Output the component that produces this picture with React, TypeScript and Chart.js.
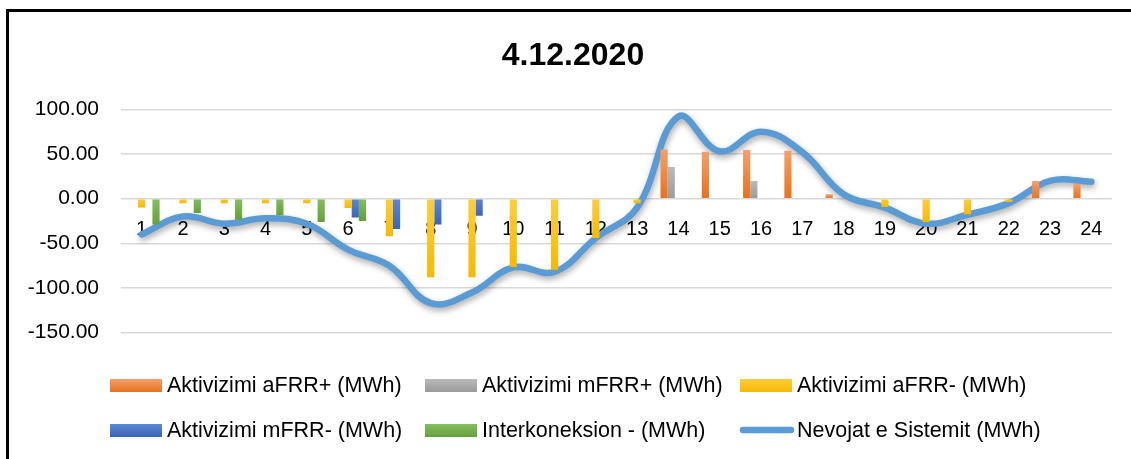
import React, { useEffect, useRef } from 'react';
import { Chart, registerables } from 'chart.js';

Chart.register(...registerables);

const categories = ['1', '2', '3', '4', '5', '6', '7', '8', '9', '10', '11', '12', '13', '14', '15', '16', '17', '18', '19', '20', '21', '22', '23', '24'];
const aFRRplus = [0, 0, 0, 0, 0, 0, 0, 0, 0, 0, 0, 0, 0, 55, 52.6, 54.5, 53.5, 4.9, 0, 0, 0, 0, 19.8, 16.5];
const mFRRplus = [0, 0, 0, 0, 0, 0, 0, 0, 0, 0, 0, 0, 0, 35.4, 0, 19.8, 0, 0, 0, 0, 0, 0, 0, 0];
const aFRRminus = [-10, -5, -5, -5, -5, -10.5, -42, -88, -88, -76.5, -79.5, -44, -5, 0, 0, 0, 0, 0, -9.3, -26, -17.5, -3.7, 0, 0];
const mFRRminus = [0, 0, 0, 0, 0, -21, -34, -29, -19, 0, 0, 0, 0, 0, 0, 0, 0, 0, 0, 0, 0, 0, 0, 0];
const interkoneksion = [-29, -16, -23.5, -18.7, -26, -25, 0, 0, 0, 0, 0, 0, 0, 0, 0, 0, 0, 0, 0, 0, 0, 0, 0, 0];
const nevojat = [-40, -20, -28, -22, -28, -57, -75, -117, -105, -77, -82, -44, -10, 92, 53, 75, 52, 5, -10, -28, -18, -5, 20, 19];

const seriesNames = [
  'Aktivizimi aFRR+ (MWh)',
  'Aktivizimi mFRR+ (MWh)',
  'Aktivizimi aFRR- (MWh)',
  'Aktivizimi mFRR- (MWh)',
  'Interkoneksion - (MWh)',
  'Nevojat e Sistemit (MWh)',
];
const titleText = '4.12.2020';

// [light (top), dark (bottom)]
const ORANGE = ['#F4A06A', '#E8711F'];
const GRAY = ['#BABABA', '#9A9A9A'];
const YELLOW = ['#FFCD3C', '#F7B900'];
const BLUE = ['#5D88D6', '#3A64B6'];
const GREEN = ['#86BE60', '#63A03A'];
const LINE = '#5B9BD5';

const FONT = "'Liberation Sans', Arial, sans-serif";

// legend grid layout
const LEG_X0 = 110;
const LEG_COL = 315;
const LEG_Y0 = 385;
const LEG_ROW = 45;
const LEG_TEXT_GAP = 57;

function rectImage(colors: string[]) {
  const c = document.createElement('canvas');
  c.width = 52;
  c.height = 13;
  const x = c.getContext('2d')!;
  const g = x.createLinearGradient(0, 0, 0, 13);
  g.addColorStop(0, colors[0]);
  g.addColorStop(1, colors[1]);
  x.fillStyle = g;
  x.fillRect(0, 0, 52, 13);
  return c;
}

function lineImage() {
  const c = document.createElement('canvas');
  c.width = 56;
  c.height = 10;
  const x = c.getContext('2d')!;
  x.strokeStyle = LINE;
  x.lineWidth = 6.5;
  x.lineCap = 'round';
  x.beginPath();
  x.moveTo(4, 5);
  x.lineTo(52, 5);
  x.stroke();
  return c;
}

export default function App() {
  const ref = useRef<HTMLCanvasElement>(null);

  useEffect(() => {
    if (!ref.current) return;

    const images = [rectImage(ORANGE), rectImage(GRAY), rectImage(YELLOW), rectImage(BLUE), rectImage(GREEN), lineImage()];

    const shadowPlugin = {
      id: 'lineShadow',
      beforeDatasetDraw(chart: any, args: any) {
        if (args.meta.type !== 'line') return;
        const c = chart.ctx;
        c.save();
        c.shadowColor = 'rgba(0,0,0,0.35)';
        c.shadowBlur = 6;
        c.shadowOffsetX = 1;
        c.shadowOffsetY = 3;
      },
      afterDatasetDraw(chart: any, args: any) {
        if (args.meta.type !== 'line') return;
        chart.ctx.restore();
      },
    };

    const shiftPlugin = {
      id: 'shiftTitle',
      afterLayout(chart: any) {
        if (chart.titleBlock) chart.titleBlock.left = 34;
      },
    };

    const legendPlugin = {
      id: 'gridLegend',
      afterDraw(chart: any) {
        const c = chart.ctx;
        c.save();
        c.font = `21.5px ${FONT}`;
        c.fillStyle = '#000';
        c.textBaseline = 'middle';
        c.textAlign = 'left';
        chart.data.datasets.forEach((ds: any, i: number) => {
          const col = i % 3;
          const row = Math.floor(i / 3);
          const bx = LEG_X0 + col * LEG_COL;
          const cy = LEG_Y0 + row * LEG_ROW;
          const img = images[i];
          const ox = ds.type === 'line' ? -1 : 0;
          c.drawImage(img, bx + ox, Math.round(cy - img.height / 2));
          c.fillText(ds.label, bx + LEG_TEXT_GAP, cy + 1);
        });
        c.restore();
      },
    };

    const barDs = (label: string, data: number[], colors: string[]) => ({
      type: 'bar' as const,
      label,
      data,
      backgroundColor: (ctx: any) => {
        const chart = ctx.chart;
        const ys = chart.scales && chart.scales.y;
        if (ctx.type !== 'data' || !ys || typeof ctx.raw !== 'number' || ctx.raw === 0) return colors[1];
        const p0 = ys.getPixelForValue(0);
        const p1 = ys.getPixelForValue(ctx.raw);
        const top = Math.min(p0, p1);
        const bot = Math.max(p0, p1);
        if (!isFinite(top) || !isFinite(bot) || bot - top < 0.5) return colors[1];
        const g = chart.ctx.createLinearGradient(0, top, 0, bot);
        g.addColorStop(0, colors[0]);
        g.addColorStop(1, colors[1]);
        return g;
      },
      borderWidth: 0,
      categoryPercentage: 0.87,
      barPercentage: 1.0,
    });

    const chart = new Chart(ref.current, {
      type: 'bar',
      data: {
        labels: categories,
        datasets: [
          barDs(seriesNames[0], aFRRplus, ORANGE),
          barDs(seriesNames[1], mFRRplus, GRAY),
          barDs(seriesNames[2], aFRRminus, YELLOW),
          barDs(seriesNames[3], mFRRminus, BLUE),
          barDs(seriesNames[4], interkoneksion, GREEN),
          {
            type: 'line' as const,
            label: seriesNames[5],
            data: nevojat,
            borderColor: LINE,
            backgroundColor: LINE,
            borderWidth: 6.5,
            borderCapStyle: 'round',
            borderJoinStyle: 'round',
            pointRadius: 0,
            pointHoverRadius: 0,
            tension: 0.4,
            fill: false,
          } as any,
        ],
      },
      options: {
        animation: false,
        responsive: false,
        maintainAspectRatio: false,
        layout: { padding: { left: 20, right: 19, top: 0, bottom: 126.3 } },
        plugins: {
          tooltip: { enabled: false },
          legend: { display: false },
          title: {
            display: true,
            text: titleText,
            color: '#000',
            font: { family: FONT, size: 32, weight: 'bold', lineHeight: 1.2 },
            padding: { top: 37, bottom: 33.9 },
          },
        },
        scales: {
          x: {
            position: { y: 0 } as any,
            grid: { display: false, drawTicks: false },
            border: { display: false },
            ticks: {
              color: '#000',
              font: { family: FONT, size: 20 },
              padding: 18.5,
              maxRotation: 0,
              autoSkip: false,
            },
          },
          y: {
            min: -150,
            max: 100,
            ticks: {
              stepSize: 50,
              color: '#000',
              font: { family: FONT, size: 21 },
              padding: 22,
              callback: (v: any) => Number(v).toFixed(2),
            },
            grid: { color: '#d9d9d9', lineWidth: 1.5, drawTicks: false },
            border: { display: false },
            afterFit: (s: any) => {
              s.width = 101;
            },
          },
        },
      },
      plugins: [shadowPlugin, shiftPlugin, legendPlugin],
    } as any);

    return () => chart.destroy();
  }, []);

  return (
    <div style={{ position: 'absolute', left: 0, top: 0, width: 1131, height: 459, overflow: 'hidden', background: '#fff' }}>
      <canvas ref={ref} width={1131} height={459} style={{ position: 'absolute', left: 0, top: 0, width: 1131, height: 459 }} />
      <div
        style={{
          position: 'absolute',
          left: 6,
          top: 9,
          width: 1140,
          height: 470,
          borderLeft: '3px solid #000',
          borderTop: '3px solid #000',
          pointerEvents: 'none',
        }}
      />
    </div>
  );
}
